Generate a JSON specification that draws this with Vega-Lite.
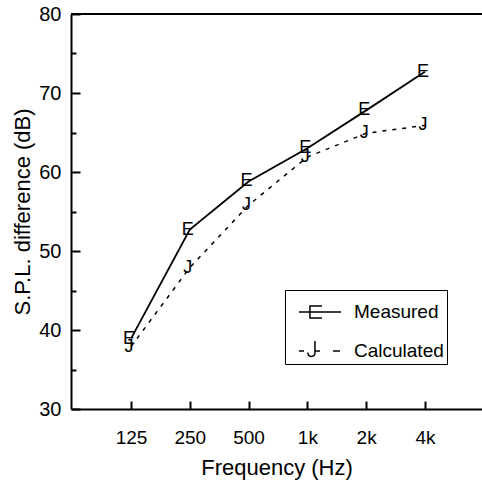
{
  "$schema": "https://vega.github.io/schema/vega-lite/v6.json",
  "width": 411,
  "height": 395,
  "autosize": {"type": "none"},
  "padding": {"left": 71, "top": 14, "right": 0, "bottom": 73},
  "background": "white",
  "config": {
    "font": "Liberation Sans",
    "view": {"stroke": null},
    "axis": {
      "domainColor": "black", "domainWidth": 2, "tickColor": "black", "tickWidth": 2,
      "labelColor": "black", "titleColor": "black", "titleFontWeight": "normal",
      "labelFont": "Liberation Sans", "titleFont": "Liberation Sans", "grid": false
    }
  },
  "data": {
    "values": [
      {"series": "Measured", "freq": 125, "spl": 38.9},
      {"series": "Measured", "freq": 250, "spl": 52.7},
      {"series": "Measured", "freq": 500, "spl": 58.8},
      {"series": "Measured", "freq": 1000, "spl": 63.0},
      {"series": "Measured", "freq": 2000, "spl": 67.8},
      {"series": "Measured", "freq": 4000, "spl": 72.7},
      {"series": "Calculated", "freq": 125, "spl": 37.9},
      {"series": "Calculated", "freq": 250, "spl": 47.9},
      {"series": "Calculated", "freq": 500, "spl": 55.8},
      {"series": "Calculated", "freq": 1000, "spl": 61.9},
      {"series": "Calculated", "freq": 2000, "spl": 64.9},
      {"series": "Calculated", "freq": 4000, "spl": 65.9}
    ]
  },
  "encoding": {
    "x": {
      "field": "freq", "type": "quantitative",
      "scale": {"type": "log", "base": 2, "domain": [61.6, 7840], "nice": false},
      "axis": {
        "title": "Frequency (Hz)", "values": [125, 250, 500, 1000, 2000, 4000],
        "labelExpr": "datum.value >= 1000 ? (datum.value / 1000) + 'k' : datum.label",
        "tickSize": -8, "labelPadding": 27, "labelFontSize": 19, "titleFontSize": 22,
        "titlePadding": 10, "labelFlush": false
      }
    },
    "y": {
      "field": "spl", "type": "quantitative",
      "scale": {"domain": [30, 80], "nice": false, "zero": false},
      "axis": {
        "title": "S.P.L. difference (dB)",
        "values": [30, 35, 40, 45, 50, 55, 60, 65, 70, 75, 80],
        "labelExpr": "datum.value % 10 === 0 ? datum.label : ''",
        "tickSize": {"condition": {"test": "datum.value % 10 === 0", "value": -9}, "value": -5},
        "labelPadding": 19, "labelFontSize": 20, "titleFontSize": 22, "titlePadding": 4,
        "labelFlush": false
      }
    }
  },
  "layer": [
    {
      "mark": {"type": "rule", "color": "black", "strokeWidth": 1.5},
      "encoding": {"y": {"datum": 80}, "x": null}
    },
    {
      "transform": [{"filter": "datum.series === 'Measured'"}],
      "mark": {"type": "line", "color": "black", "strokeWidth": 1.8}
    },
    {
      "transform": [{"filter": "datum.series === 'Calculated'"}],
      "mark": {"type": "line", "color": "black", "strokeWidth": 1.5, "strokeDash": [4, 6]}
    },
    {
      "transform": [{"filter": "datum.series === 'Measured'"}],
      "mark": {"type": "text", "text": "E", "fontSize": 18, "align": "center", "baseline": "middle", "dx": -2, "color": "black"}
    },
    {
      "transform": [{"filter": "datum.series === 'Calculated'"}],
      "mark": {"type": "text", "text": "J", "fontSize": 18, "align": "center", "baseline": "middle", "dx": -2, "color": "black"}
    },
    {
      "mark": {"type": "point", "filled": false, "opacity": 0, "color": "black", "size": 1296},
      "encoding": {
        "shape": {
          "field": "series",
          "scale": {
            "domain": ["Measured", "Calculated"],
            "range": [
              "M-1.17,0H1.17M0.11,-0.33H-0.56V0.33H0.11M-0.56,0H0.08",
              "M-1.17,0H-0.89M-0.28,-0.55V0.1Q-0.28,0.3 -0.47,0.3Q-0.67,0.3 -0.67,0.08M-0.28,0H0M0.72,0H1.11"
            ]
          },
          "legend": {
            "title": null,
            "orient": "none", "legendX": 214, "legendY": 276,
            "padding": 3, "symbolOffset": 13, "labelOffset": 15, "rowPadding": 10,
            "labelFontSize": 19, "labelColor": "black", "labelFont": "Liberation Sans",
            "labelExpr": "datum.label + '\u3164'",
            "strokeColor": "black", "fillColor": "white",
            "symbolSize": 1296, "symbolStrokeWidth": 1.5, "symbolStrokeColor": "black",
            "encode": {
              "symbols": {"update": {"opacity": {"value": 1}, "stroke": {"value": "black"}, "strokeWidth": {"value": 1.5}, "fill": {"value": "transparent"}}},
              "legend": {"update": {"strokeWidth": {"value": 1.5}}}
            }
          }
        }
      }
    }
  ]
}
